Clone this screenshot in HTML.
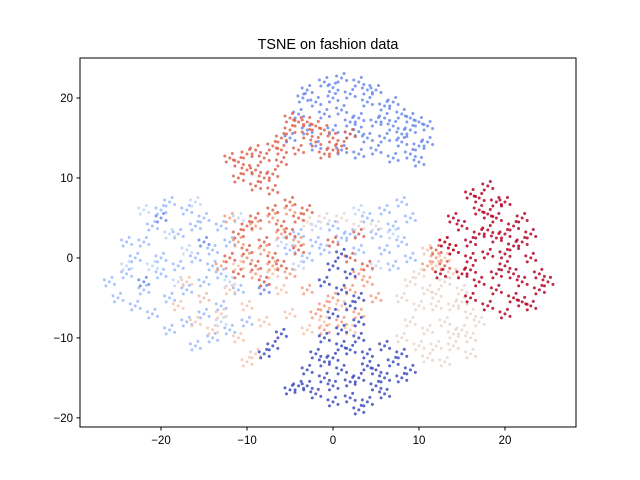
<!DOCTYPE html>
<html><head><meta charset="utf-8"><style>
body{margin:0;background:#fff;}
svg{display:block;font-family:"Liberation Sans","DejaVu Sans",sans-serif;}
</style></head><body>
<svg id="chart" width="640" height="480" viewBox="0 0 640 480">
<rect width="640" height="480" fill="#fff"/>
<text x="328" y="49" text-anchor="middle" font-size="14.4">TSNE on fashion data</text>
<g id="points"></g>
<rect x="80" y="58" width="496" height="369" fill="none" stroke="#000" stroke-width="1"/>
<g id="xticks"></g>
<g id="yticks"></g>
</svg>
<script>
const xTicks = [-20, -10, 0, 10, 20];
const yTicks = [-20, -10, 0, 10, 20];
const classColors = ["#3b4cc0","#6788ee","#9abbff","#c3d5f4","#e8d6cc","#f4c5ad","#f59c7d","#de614d","#b40426"];
const cls0 = [[-4,-16],[-2,-17],[0,-18],[2,-17.5],[4,-18],[6,-17],[8,-15],[-3,-14],[-1,-15],[1,-14],[3,-15],[5,-14],[7,-13],[-2,-12],[0,-12.5],[2,-11.5],[4,-12],[6,-11],[8,-12],[-1,-10],[1,-9],[3,-10],[0,-7],[2,-6],[1,-4],[2,-2],[0,-1],[3,-5],[1,0.5],[-5,-16.5],[5,-16],[3,-19],[-7,-11],[-8,-12],[9,-14],[-3,-16],[2,-15.5],[0,-16],[4,-13.5],[1,-11],[-1,-3],[3,-8],[-6,-9.5],[6,-15],[-1,-13]];
const cls1 = [[-3,21],[-1,22],[1,22.5],[3,22],[5,21],[-2,19.5],[0,20],[2,20.5],[4,19.5],[6,19],[8,18],[10,17],[-4,18],[-1,18],[1,18.5],[3,17.5],[5,17],[7,16.5],[9,16],[11,16.5],[-3,16],[0,16],[2,15.5],[4,15],[6,15],[8,14.5],[10,14],[1,13.5],[3,13],[5,13.5],[7,12.5],[9,13],[10,12],[-5,15],[-2,14],[2,17],[4,21],[6,17.5],[8,15.5],[0,21.3],[-3.5,20],[7,19.5],[9,17.5],[11,14.5],[3,15.8],[-22,-3],[-20,5],[-15,2],[-8,-4]];
const cls2 = [[-26,-3],[-25,-5],[-24,-2],[-23,0],[-22,2],[-21,4],[-20,6],[-19,7],[-17,6],[-15,5],[-13,4],[-22,-4],[-20,-2],[-18,-1],[-16,0],[-14,1],[-12,2],[-21,-7],[-19,-5],[-17,-4],[-15,-3],[-13,-2],[-19,-9],[-17,-8],[-15,-7],[-13,-6],[-16,-11],[-14,-10],[-12,-9],[-10,-8],[-24,2],[-18,3],[-16,4],[-14,-1],[-11,-4],[-20,0],[-23,-6],[8,7],[9,5],[7,4],[8,2],[6,1],[5,3],[9,0],[7,-1],[4,5],[6,6],[-4,3],[-2,2],[0,4],[2,3],[-3,0],[-1,1],[3,1],[-5,1],[1,2.5]];
const cls3 = [[-22,6],[-19,3],[-17,1],[-15,-5],[-13,-8],[-18,-3],[-21,-1],[-10,0],[-8,-3],[-6,2],[-4,-1],[-2,4],[3,6],[5,-1],[-11,5],[-16,7],[-7,5],[-24,-1],[-12,-3],[7,3]];
const cls4 = [[9,-3],[11,-4],[13,-3],[15,-4],[10,-6],[12,-6],[14,-6],[16,-7],[9,-8],[11,-9],[13,-8],[15,-9],[10,-11],[12,-11],[14,-11],[16,-12],[13,-13],[8,-10],[11,-12.5],[15,-5.5],[17,-8],[12,-4.5],[14,-9.5],[8,-5],[10,-2],[16,-10],[-1,5],[1,5],[3,4],[5,4],[-3,4.5]];
const cls5 = [[-17,-3],[-15,-5],[-13,-7],[-11,-10],[-9,-12],[-14,-9],[-12,-4],[-10,-6],[-8,-8],[-6,-4],[-16,-8],[-18,-6],[-10,-13],[-5,-7],[-3,-9],[-1,-8],[1,-6],[2,-9],[-7,-2],[-11,-1],[12,-1],[13,0],[14,-2],[11,1]];
const cls6 = [[-11,2],[-9,4],[-7,5],[-5,6],[-10,0],[-8,1],[-6,3],[-4,2],[-3,-4],[-1,-6],[1,-8],[3,-7],[5,-5],[-2,-7],[0,-5],[2,-4],[4,-3],[-9,-2],[-7,-1],[-13,-1],[12,0],[13,2],[11,-1],[14,1],[-12,5],[-1,-9],[3,-2],[-5,-2]];
const cls7 = [[-11,12],[-10,13],[-9,11],[-8,12.5],[-7,14],[-6,15],[-5,16],[-4,17],[-3,15.5],[-2,14.5],[-1,16],[0,15],[1,14],[-4,13.5],[-6,12],[-8,10],[-9,9],[-7,8.5],[-10,11],[-12,12.5],[-5,17.5],[-3,17],[-2,16.5],[0,13.5],[-6,13.5],[-9,13.5],[-11,10],[-7,10.5],[2,15.5],[-1,13],[-11,3],[-9,5],[-7,6],[-5,7],[-10,1],[-8,2],[-6,4],[-4,5],[-11,-2],[-9,-1],[-7,0],[-5,3],[-8,-3],[-6,-1],[-12,0],[-3,6],[-10,4],[-4,1],[0,2],[2,0],[4,-1],[3,3],[12,1],[13,-1]];
const cls8 = [[16,8],[18,9],[20,7],[22,5],[17,6],[19,5],[21,4],[23,3],[15,4],[17,3],[19,2.5],[21,1.5],[23,0],[24,-2],[14,1],[16,0],[18,0.5],[20,-1],[22,-3],[24,-4],[15,-2],[17,-3],[19,-4],[21,-5],[23,-6],[16,-5],[18,-6],[20,-7],[13,2],[14,5],[18,3.5],[16,2],[20,3],[22,2],[25,-3],[12.5,-2],[17,7.5],[19,7],[21,-2],[22,-5.5],[18,5.5],[20,0.5],[16,-1.5],[19,-2]];
const classPoints = [cls2, cls3, cls5, cls6, cls4, cls1, cls7, cls0, cls8];
const classIds = [2, 3, 5, 6, 4, 1, 7, 0, 8];

const NS = "http://www.w3.org/2000/svg";
const xMin = -29.42, xMax = 28.26, yMin = -21.14, yMax = 25;
const L = 80, R = 576, T = 58, B = 427;
function sx(v){ return L + (v - xMin) / (xMax - xMin) * (R - L); }
function sy(v){ return B - (v - yMin) / (yMax - yMin) * (B - T); }

// marker glyph: a small fixed cluster of dots drawn around each point (pixel offsets)
const glyph = [[0,0],[5,2.5],[-3.5,4],[2.5,-4.5],[-5,-2]];
const pg = document.getElementById('points');
classPoints.forEach((arr, k) => {
  arr.forEach(p => {
    const g = document.createElementNS(NS, 'g');
    
    
    const cx = sx(p[0]), cy = sy(p[1]);
    glyph.forEach(o => {
      const c = document.createElementNS(NS, 'circle');
      c.setAttribute('cx', cx + o[0]);
      c.setAttribute('cy', cy + o[1]);
      c.setAttribute('r', 1.5);
      c.setAttribute('fill', classColors[classIds[k]]);
      c.setAttribute('fill-opacity', 0.85);
      g.appendChild(c);
    });
    pg.appendChild(g);
  });
});

const xg = document.getElementById('xticks');
xTicks.forEach(t => {
  const x = sx(t);
  const l = document.createElementNS(NS, 'line');
  l.setAttribute('x1', x); l.setAttribute('x2', x);
  l.setAttribute('y1', B); l.setAttribute('y2', B + 3.5);
  l.setAttribute('stroke', '#000');
  
  
  xg.appendChild(l);
  const tx = document.createElementNS(NS, 'text');
  tx.setAttribute('x', x); tx.setAttribute('y', B + 17);
  tx.setAttribute('text-anchor', 'middle');
  tx.setAttribute('font-size', '11.5');
  tx.textContent = t < 0 ? '\u2212' + Math.abs(t) : String(t);
  
  
  xg.appendChild(tx);
});
const yg = document.getElementById('yticks');
yTicks.forEach(t => {
  const y = sy(t);
  const l = document.createElementNS(NS, 'line');
  l.setAttribute('x1', L - 3.5); l.setAttribute('x2', L);
  l.setAttribute('y1', y); l.setAttribute('y2', y);
  l.setAttribute('stroke', '#000');
  
  
  yg.appendChild(l);
  const tx = document.createElementNS(NS, 'text');
  tx.setAttribute('x', L - 7); tx.setAttribute('y', y + 4);
  tx.setAttribute('text-anchor', 'end');
  tx.setAttribute('font-size', '11.5');
  tx.textContent = t < 0 ? '\u2212' + Math.abs(t) : String(t);
  
  
  yg.appendChild(tx);
});
</script>
</body></html>
